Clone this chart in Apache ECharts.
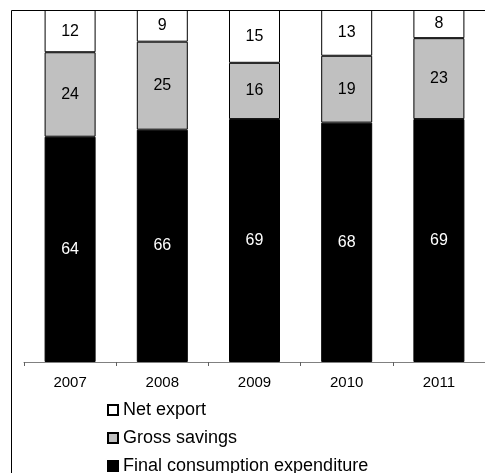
<!DOCTYPE html>
<html>
<head>
<meta charset="utf-8">
<title>GDP structure</title>
<script src="https://cdn.jsdelivr.net/npm/echarts@6/dist/echarts.min.js"></script>
<style>
  html, body { margin: 0; padding: 0; background: #fff; }
  #main { width: 485px; height: 473px; }
</style>
</head>
<body>
<div id="main"></div>
<script>
// data (percent of GDP)
var years = ['2007', '2008', '2009', '2010', '2011'];
var consumption = [64, 66, 69, 68, 69];
var savings = [24, 25, 16, 19, 23];
var netExport = [12, 9, 15, 13, 8];

var chart = echarts.init(document.getElementById('main'));

var option = {
    animation: false,
    textStyle: { fontFamily: 'Liberation Sans, Arial, sans-serif' },
    graphic: [
        // outer frame, cut by the picture edge on right and bottom
        { type: 'rect', shape: { x: 11.5, y: 10.5, width: 520, height: 520 },
          style: { fill: 'none', stroke: '#000', lineWidth: 1 }, z: 100 },
        // title, mostly cut off at the top
        { type: 'text', x: 26, y: -13,
          style: { text: '(as percentage of GDP)', fill: '#000',
                   font: 'italic 28px "Liberation Serif", "Times New Roman", serif',
                   align: 'left', verticalAlign: 'middle' } }
    ],
    legend: {
        orient: 'vertical',
        left: 107,
        top: 401,
        height: 120,
        padding: 0,
        itemWidth: 10,
        itemHeight: 10,
        itemGap: 10,
        icon: 'rect',
        data: ['Net export', 'Gross savings', 'Final consumption expenditure'],
        textStyle: { fontSize: 18, color: '#000' }
    },
    grid: { left: 24, top: 10, width: 475, height: 352 },
    xAxis: {
        type: 'category',
        data: years,
        axisLine: { lineStyle: { color: '#808080' } },
        axisTick: { show: true, inside: false, length: 4, lineStyle: { color: '#606060' } },
        axisLabel: { fontSize: 15, color: '#000', margin: 13 }
    },
    yAxis: {
        type: 'value',
        min: 0,
        max: 100,
        show: false,
        splitLine: { show: false }
    },
    series: [
        {
            name: 'Final consumption expenditure',
            type: 'bar',
            stack: 'gdp',
            barWidth: 51,
            data: consumption,
            itemStyle: { color: '#000', borderColor: '#000', borderWidth: 1 },
            label: { show: true, position: 'inside', color: '#fff', fontSize: 16 }
        },
        {
            name: 'Gross savings',
            type: 'bar',
            stack: 'gdp',
            data: savings,
            itemStyle: { color: '#c0c0c0', borderColor: '#000', borderWidth: 1 },
            label: { show: true, position: 'inside', color: '#000', fontSize: 16 }
        },
        {
            name: 'Net export',
            type: 'bar',
            stack: 'gdp',
            data: netExport,
            itemStyle: { color: '#fff', borderColor: '#000', borderWidth: 1 },
            label: { show: true, position: 'inside', color: '#000', fontSize: 16 }
        }
    ]
};

chart.setOption(option);
</script>
</body>
</html>
